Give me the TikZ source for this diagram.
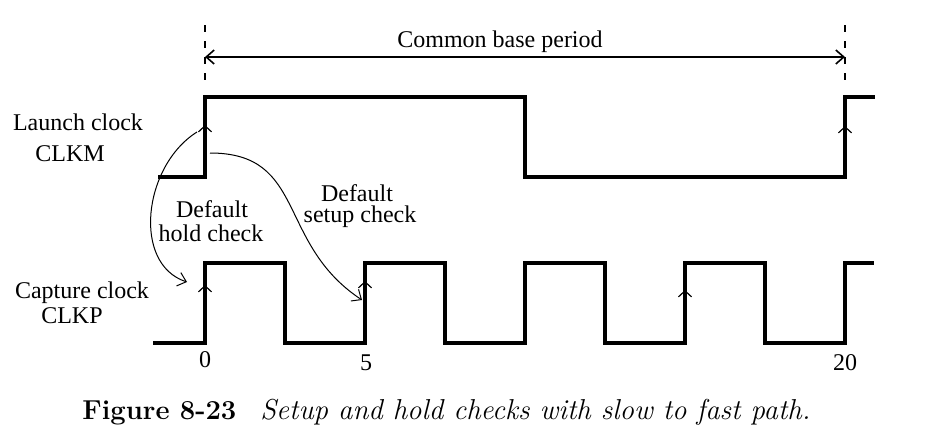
\documentclass[tikz,border=0pt]{standalone}
\usepackage{fontspec}
\newfontfamily\labelfont{Liberation Serif}
\usetikzlibrary{arrows.meta}

\tikzset{
  wave/.style={line width=1.6pt, line join=miter, line cap=rect},
  edgetip/.style={-{Straight Barb[length=3pt,width=6.5pt]}, line width=0.6pt},
  check/.style={-{Straight Barb[length=4pt,width=7pt]}, line width=0.5pt},
  period/.style={{Straight Barb[length=4pt,width=7pt]}-{Straight Barb[length=4pt,width=7pt]}, line width=0.8pt},
  marker/.style={line width=0.8pt, dash pattern=on 3.5pt off 4.5pt},
  lbl/.style={font=\labelfont\fontsize{12}{12}\selectfont, anchor=base, inner sep=0pt},
}

\begin{document}
\begin{tikzpicture}[x=0.5pt,y=-0.5pt]
\useasboundingbox (0,0) rectangle (944,439);

% common base period
\coordinate (mleft) at (205,57);
\coordinate (mright) at (845,57);
\draw[marker] (205,25) -- (205,84);
\draw[marker] (845,25) -- (845,84);
\draw[period] (mleft) -- (mright);
\node[lbl] (base) at (500,47) {Common base period};

% launch clock CLKM
\draw[wave] (160,177) -- (205,177) -- (205,97) -- (525,97) -- (525,177)
  -- (845,177) -- (845,97) -- (873,97);
\draw[edgetip] (205,140) -- (205,125);
\draw[edgetip] (845,140) -- (845,126);
\node[lbl] (launch) at (78,130) {Launch clock};
\node[lbl] (clkm) at (70,161) {CLKM};

% capture clock CLKP
\draw[wave] (155,343) -- (205,343) -- (205,263) -- (285,263) -- (285,343)
  -- (365,343) -- (365,263) -- (445,263) -- (445,343)
  -- (525,343) -- (525,263) -- (605,263) -- (605,343)
  -- (685,343) -- (685,263) -- (765,263) -- (765,343)
  -- (845,343) -- (845,263) -- (872,263);
\draw[edgetip] (205,300) -- (205,285);
\draw[edgetip] (365,298) -- (365,281);
\draw[edgetip] (685,305) -- (685,290);
\node[lbl] (capture) at (82,298) {Capture clock};
\node[lbl] (clkp) at (72,323) {CLKP};

% time values
\node[lbl] (t0) at (205,367) {0};
\node[lbl] (t5) at (366,370) {5};
\node[lbl] (t20) at (845,370) {20};

% checks
\coordinate (holdfrom) at (197,132);
\coordinate (holdto) at (187,282);
\coordinate (setupfrom) at (210,153);
\coordinate (setupto) at (362,300);
\draw[check] (holdfrom) .. controls (143,166) and (132,264) .. (holdto);
\draw[check] (setupfrom) .. controls (307,153) and (276,243) .. (setupto);
\node[lbl] (hold1) at (212,217) {Default};
\node[lbl] (hold2) at (211,241) {hold check};
\node[lbl] (setup1) at (357,201) {Default};
\node[lbl] (setup2) at (360,222) {setup check};

% caption
\node[anchor=base west, inner sep=0pt] (caption) at (82,419)
  {\fontsize{13.7}{14}\selectfont\textbf{Figure 8-23}\hspace{12pt}%
   \fontsize{14.4}{14}\selectfont\textit{Setup and hold checks with slow to fast path.}};
\end{tikzpicture}
\end{document}
